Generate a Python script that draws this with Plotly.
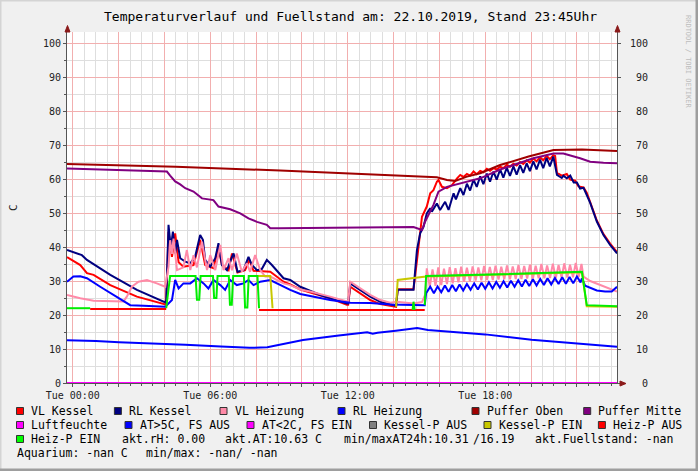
import plotly.graph_objects as go

# ---------------- data (hours of 22.10.2019, values in C) ----------------
vlk_t = [-0.25, 0.03, 0.33, 0.62, 0.91, 1.64, 2.80, 4.04,
         4.08, 4.18, 4.33, 4.47, 4.62, 4.83, 5.27, 5.56, 5.78, 6.14, 6.36, 6.51, 6.80, 6.95, 7.19, 7.52,
         7.71, 7.89, 8.32, 8.62, 9.20, 9.49, 9.93, 10.36, 11.23, 11.96,
         12.02, 12.11, 12.54, 12.98, 13.42, 13.85, 14.11, 14.18, 14.87, 15.02, 15.16, 15.24, 15.45, 15.60,
         15.74, 15.89, 15.96, 16.11, 16.33, 16.55, 16.77,
         16.91, 17.05, 17.20, 17.34, 17.49, 17.63, 17.78, 17.92, 18.07, 18.21, 18.36, 18.50, 18.65, 18.79,
         18.94, 19.08, 19.23, 19.37, 19.52, 19.66, 19.81, 19.95, 20.10, 20.24, 20.39, 20.53, 20.68, 20.82,
         20.97, 21.05, 21.13, 21.34, 21.56, 21.71, 21.92, 22.07, 22.29, 22.43, 22.58, 22.87, 23.16, 23.45, 23.75]
vlk_v = [37.0, 36.0, 34.7, 32.3, 31.8, 28.8, 25.4, 23.1,
         23.4, 44.5, 37.1, 44.0, 35.5, 34.2, 34.7, 42.1, 34.7, 33.8, 40.1, 34.7, 33.2, 38.1, 32.5, 33.2,
         36.2, 33.0, 32.7, 32.7, 29.8, 29.0, 27.5, 26.6, 24.9, 23.0,
         23.0, 28.3, 26.4, 24.4, 23.2, 22.6, 22.4, 27.6, 27.6, 36.0, 44.5, 48.9, 51.9, 55.8,
         56.7, 59.2, 59.7, 57.7, 57.3, 58.2, 60.2,
         61.2, 60.6, 61.5, 61.0, 62.2, 61.4, 62.4, 62.0, 63.0, 62.4, 63.2, 62.8, 63.6, 63.2,
         64.2, 63.6, 64.5, 64.0, 65.0, 64.4, 65.5, 64.8, 66.0, 65.2, 66.4, 65.5, 66.8, 65.8,
         67.0, 66.8, 61.8, 61.0, 61.5, 59.8, 59.5, 57.8, 57.5, 56.0, 53.0, 47.8, 43.8, 41.0, 38.5]

rlk_t = [-0.25, 0.20, 0.40, 0.62, 1.64, 2.80, 4.04,
         4.08, 4.18, 4.28, 4.37, 4.47, 4.55, 4.69, 4.91, 5.13, 5.34, 5.56, 5.68, 5.78, 6.00, 6.22, 6.36,
         6.51, 6.73, 6.95, 7.02, 7.19, 7.45, 7.67, 7.82, 8.04, 8.25, 8.47, 8.69, 9.20, 9.49, 9.93, 10.80, 11.96,
         12.02, 12.11, 12.54, 12.98, 13.42, 13.85, 14.11, 14.18, 14.87, 15.02, 15.16, 15.31, 15.45, 15.60,
         15.67, 15.89, 16.03, 16.25, 16.40, 16.62, 16.72,
         16.91, 17.05, 17.20, 17.34, 17.49, 17.63, 17.78, 17.92, 18.07, 18.21, 18.36, 18.50, 18.65, 18.79,
         18.94, 19.08, 19.23, 19.37, 19.52, 19.66, 19.81, 19.95, 20.10, 20.24, 20.39, 20.53, 20.68, 20.82,
         20.97, 21.13, 21.34, 21.41, 21.56, 21.71, 21.86, 22.00, 22.14, 22.29, 22.43, 22.58, 22.87, 23.16,
         23.45, 23.75]
rlk_v = [39.1, 37.9, 37.6, 36.2, 31.8, 27.4, 23.7,
         24.4, 46.5, 39.6, 44.5, 38.1, 42.1, 36.7, 35.7, 35.2, 37.1, 43.5, 42.1, 36.2, 34.2, 36.7, 41.1,
         34.7, 33.2, 37.1, 38.1, 32.7, 33.2, 37.1, 34.7, 33.2, 33.5, 36.2, 34.7, 30.8, 30.3, 28.3, 25.9, 23.4,
         23.4, 29.3, 27.4, 25.4, 23.9, 23.2, 22.7, 27.4, 27.4, 39.1, 44.0, 46.0, 49.9, 51.4,
         50.4, 52.8, 50.9, 53.3, 50.9, 55.8, 54.0,
         57.3, 55.3, 58.6, 56.6, 59.8, 57.7, 60.8, 58.5, 61.6, 59.2, 62.2, 59.8, 62.8, 60.4,
         63.3, 60.9, 63.7, 61.3, 64.1, 61.8, 64.6, 62.3, 65.2, 62.8, 65.7, 63.2, 66.2, 63.7,
         66.6, 61.2, 60.3, 61.0, 60.2, 61.0, 59.0, 59.0, 57.2, 57.4, 55.3, 53.0, 47.5, 43.5,
         40.6, 38.1]

vlh_t = [-0.25, 0.33, 0.91, 1.64, 2.22, 2.36, 2.58, 2.87, 3.24, 3.67, 4.04,
         4.18, 4.25, 4.33, 4.40, 4.55, 4.83, 4.98, 5.13, 5.27, 5.42, 5.64, 5.86, 6.00, 6.22, 6.44, 6.58,
         6.80, 6.95, 7.16, 7.38, 7.60, 7.74, 7.96, 8.18, 8.40, 8.62, 9.20, 9.49, 9.93, 10.36, 11.23, 11.96,
         12.02, 12.11, 12.54, 12.98, 13.42, 13.85, 14.14, 14.87, 15.24, 15.38,
         15.45, 15.58, 15.70, 15.83, 15.95, 16.08, 16.20, 16.33, 16.45, 16.58, 16.70, 16.83, 16.95, 17.08,
         17.20, 17.33, 17.45, 17.58, 17.70, 17.83, 17.95, 18.08, 18.20, 18.33, 18.45, 18.58, 18.70, 18.83,
         18.95, 19.08, 19.20, 19.33, 19.45, 19.58, 19.70, 19.83, 19.95, 20.08, 20.20, 20.33, 20.45, 20.58,
         20.70, 20.83, 20.95, 21.08, 21.20, 21.33, 21.45, 21.58, 21.70, 21.83, 21.95, 22.08, 22.20,
         22.29, 22.58, 22.87, 23.16, 23.45, 23.75]
vlh_v = [25.9, 24.9, 24.2, 24.0, 24.0, 25.4, 28.3, 29.8, 30.3, 29.3, 28.3,
         34.2, 42.0, 38.0, 42.5, 33.2, 34.0, 39.1, 33.2, 37.6, 34.0, 41.6, 33.2, 37.6, 33.2, 40.6, 33.2,
         36.7, 33.2, 38.1, 32.7, 35.2, 32.7, 37.6, 33.2, 31.3, 31.3, 29.3, 28.8, 27.5, 26.9, 25.4, 23.9,
         23.9, 29.8, 27.8, 25.9, 24.4, 23.6, 23.9, 23.4, 23.8, 26.0,
         33.7, 28.3, 33.4, 28.6, 34.0, 28.8, 33.6, 29.1, 34.1, 29.3, 33.8, 29.6, 34.2, 29.8,
         33.9, 29.9, 34.3, 30.1, 34.0, 30.2, 34.4, 30.3, 34.1, 30.3, 34.5, 30.4, 34.2, 30.5,
         34.6, 30.5, 34.3, 30.6, 34.7, 30.6, 34.4, 30.7, 34.8, 30.7, 34.5, 30.8, 35.0, 30.8,
         34.6, 30.9, 35.1, 30.9, 34.7, 31.0, 35.2, 31.0, 34.8, 31.1, 35.3, 31.2, 35.0,
         31.3, 30.0, 29.2, 28.3, 27.6, 26.9]

rlh_t = [-0.25, 0.03, 0.33, 0.62, 1.20, 1.78, 2.22, 2.51, 3.09, 4.04,
         4.11, 4.33, 4.47, 4.62, 4.83, 5.13, 5.42, 5.71, 5.92, 6.14, 6.44, 6.65, 6.87, 7.16, 7.45, 7.67,
         7.89, 8.18, 8.62, 9.20, 9.49, 9.93, 10.36, 11.23, 12.11, 12.98, 13.85, 14.87, 15.36, 15.42,
         15.60, 15.76, 15.92, 16.08, 16.24, 16.40, 16.56, 16.72, 16.88, 17.04, 17.20, 17.36, 17.52, 17.68,
         17.84, 18.00, 18.16, 18.32, 18.48, 18.64, 18.80, 18.96, 19.12, 19.28, 19.44, 19.60, 19.76, 19.92,
         20.08, 20.24, 20.40, 20.56, 20.72, 20.88, 21.04, 21.20, 21.36, 21.52, 21.68, 21.84, 22.00, 22.16,
         22.22, 22.36, 22.87, 23.23, 23.52, 23.75]
rlh_v = [29.8, 31.3, 31.4, 30.8, 28.3, 25.9, 23.9, 22.9, 22.7, 22.4,
         22.9, 24.4, 30.3, 27.8, 29.3, 29.3, 30.8, 29.3, 27.8, 30.3, 28.8, 27.4, 30.3, 28.8, 29.3, 30.3,
         28.8, 29.8, 30.3, 28.3, 27.4, 26.2, 25.6, 24.4, 23.6, 23.5, 23.1, 22.9, 22.9, 26.4,
         28.3, 26.4, 28.4, 26.7, 28.7, 26.8, 28.8, 27.0, 29.0, 27.2, 29.1, 27.4, 29.3, 27.5,
         29.5, 27.7, 29.6, 27.8, 29.7, 28.0, 29.9, 28.1, 30.1, 28.3, 30.2, 28.4, 30.4, 28.5,
         30.5, 28.7, 30.6, 28.8, 30.8, 29.0, 30.9, 29.1, 31.1, 29.2, 31.2, 29.3, 31.3, 29.6,
         30.8, 28.6, 27.2, 26.9, 26.9, 28.3]

po_t = [-0.25, 4.50, 9.05, 13.85, 15.89, 16.33, 16.69, 17.20, 17.78, 18.65, 19.89, 20.98, 22.22, 23.75]
po_v = [64.4, 63.6, 62.5, 61.2, 60.5, 59.7, 59.4, 60.7, 61.7, 64.1, 66.6, 68.5, 68.7, 68.2]

pm_t = [-0.25, 3.82, 4.11, 4.25, 4.47, 4.69, 4.91, 5.27, 5.64, 6.14, 6.36, 6.87, 7.31, 7.67, 8.04,
        8.47, 8.62, 9.05, 13.85, 14.87, 15.24, 15.38, 15.74, 15.96, 16.33, 17.78, 18.65, 20.10, 20.98,
        21.41, 22.14, 22.58, 23.16, 23.75]
pm_v = [63.1, 62.4, 62.2, 61.0, 59.3, 58.4, 57.3, 56.3, 54.3, 53.8, 51.9, 51.1, 49.9, 48.4, 47.4,
        46.5, 45.5, 45.5, 46.0, 45.9, 45.0, 47.5, 52.4, 56.3, 57.7, 60.2, 62.8, 66.1, 67.5,
        67.5, 66.1, 65.1, 64.8, 64.6]

lf_t = [-0.25, 23.75]
lf_v = [0.0, 0.0]

at_t = [-0.25, 1.01, 2.02, 3.35, 4.91, 6.47, 7.71, 8.49, 10.05, 11.61, 12.85, 13.09, 13.30, 14.10,
        15.03, 15.50, 16.60, 18.00, 20.02, 21.90, 23.75]
at_v = [12.55, 12.35, 11.96, 11.67, 11.27, 10.70, 10.35, 10.49, 12.65, 14.00, 14.90, 14.50, 14.80, 15.40,
        16.15, 15.60, 15.10, 14.30, 12.70, 11.70, 10.63]

kpe_t = [8.04, 8.62, 8.72, None, 14.11, 14.18, 15.42, 22.22, 22.43, 23.75]
kpe_v = [31.5, 31.5, 22.0, None, 22.4, 30.3, 31.3, 32.6, 22.6, 22.4]

hpa_t = [0.76, 4.08, None, 8.13, 15.36]
hpa_v = [21.8, 21.8, None, 21.5, 21.5]

hpe_t = [-0.25, 0.76, None,
         4.08, 4.25, 5.36, 5.42, 5.52, 5.58, 6.12, 6.17, 6.27, 6.32, 6.81, 6.86, 6.94, 7.00,
         7.47, 7.52, 7.62, 7.68, 8.06, 8.13, None,
         14.83, 14.87, 14.92, None,
         15.36, 15.42, 18.65, 22.22, 22.43, 23.75]
hpe_v = [22.0, 22.0, None,
         22.0, 31.5, 31.5, 24.5, 24.5, 31.5, 31.5, 25.0, 25.0, 31.5, 31.5, 23.0, 23.0, 31.5,
         31.5, 22.2, 22.2, 31.5, 31.5, 22.0, None,
         21.5, 23.9, 21.5, None,
         22.9, 31.5, 32.0, 32.7, 22.9, 22.6]

tick_hours = [0, 6, 12, 18]
tick_labels = ["Tue 00:00", "Tue 06:00", "Tue 12:00", "Tue 18:00"]
y_ticks = [0, 10, 20, 30, 40, 50, 60, 70, 80, 90, 100]

title_text = "Temperaturverlauf und Fuellstand am: 22.10.2019, Stand 23:45Uhr"
legend_rows = [
    [("VL Kessel", "#FF0000"), ("RL Kessel", "#000080"), ("VL Heizung", "#FF8AA8"),
     ("RL Heizung", "#0000FF"), ("Puffer Oben", "#A00000"), ("Puffer Mitte", "#800080")],
    [("Luftfeuchte", "#FF00FF"), ("AT>5C, FS AUS", "#0000FF"), ("AT<2C, FS EIN", "#FF00FF"),
     ("Kessel-P AUS", "#808080"), ("Kessel-P EIN", "#C8C800"), ("Heiz-P AUS", "#FF0000")],
    [("Heiz-P EIN", "#00FF00")],
]
info_row3 = ["akt.rH: 0.00", "akt.AT:10.63 C", "min/maxAT24h:10.31", "/16.19", "akt.Fuellstand: -nan"]
info_row4 = ["Aquarium: -nan C", "min/max: -nan/ -nan"]

# ---------------- layout geometry (pixels) ----------------
W, H = 698, 471
L, R, T, B = 67, 81, 32, 88
PW, PH = W - L - R, H - T - B
YMAX = 351 / 3.4


def px(x):
    return (x - L) / PW


def py(y):
    return (H - B - y) / PH


MONO = "DejaVu Sans Mono"
fig = go.Figure()


def add(t, v, color, width=2, yaxis="y"):
    fig.add_trace(go.Scatter(x=t, y=v, mode="lines", line=dict(color=color, width=width),
                             connectgaps=False, hoverinfo="skip", showlegend=False, yaxis=yaxis))


add(vlk_t, vlk_v, "#FF0000")
add(rlk_t, rlk_v, "#000080")
add(vlh_t, vlh_v, "#FF8AA8")
add(rlh_t, rlh_v, "#0000FF")
add(po_t, po_v, "#A00000")
add(pm_t, pm_v, "#800080")
add(lf_t, lf_v, "#FF00FF", yaxis="y2")
add(at_t, at_v, "#0000FF")
add(kpe_t, kpe_v, "#C8C800")
add(hpa_t, hpa_v, "#FF0000")
add(hpe_t, hpe_v, "#00EE00")

major_grid = "#F2AFAF"
minor_grid = "#DEDEDE"
axis_col = "#555555"
NB = "\u00a0"
right_text = [NB * (3 - len(str(v))) + str(v) for v in y_ticks]

fig.update_layout(
    width=W, height=H, autosize=False,
    margin=dict(l=L, r=R, t=T, b=B, pad=0),
    paper_bgcolor="#F0F0F0", plot_bgcolor="#FFFFFF",
    font=dict(family=MONO, size=10, color="#222222"),
    xaxis=dict(range=[-0.25, 23.75], tickmode="array",
               tickvals=list(range(0, 24, 2)),
               ticktext=[tick_labels[tick_hours.index(h)] if h in tick_hours else "" for h in range(0, 24, 2)],
               showgrid=True, gridcolor=major_grid, gridwidth=1,
               minor=dict(dtick=0.5, showgrid=True, gridcolor=minor_grid, ticks="outside", ticklen=2,
                          tickcolor=axis_col),
               ticks="outside", ticklen=3, tickcolor=axis_col,
               showline=True, linecolor=axis_col, linewidth=1, zeroline=False,
               tickfont=dict(family=MONO, size=10, color="#222222"), fixedrange=True),
    yaxis=dict(range=[0, YMAX], tickmode="array", tickvals=y_ticks, ticktext=[str(v) for v in y_ticks],
               showgrid=True, gridcolor=major_grid, gridwidth=1,
               minor=dict(dtick=5, showgrid=True, gridcolor=minor_grid, ticks="outside", ticklen=2,
                          tickcolor=axis_col),
               ticks="outside", ticklen=3, tickcolor=axis_col,
               showline=True, linecolor=axis_col, linewidth=1, zeroline=False,
               tickfont=dict(family=MONO, size=10, color="#222222"), fixedrange=True),
    yaxis2=dict(range=[0, YMAX], overlaying="y", side="right", tickmode="array", tickvals=y_ticks,
                ticktext=right_text, ticklabelstandoff=7,
                showgrid=False, zeroline=False, showline=True, linecolor=axis_col, linewidth=1,
                ticks="outside", ticklen=3, tickcolor=axis_col,
                tickfont=dict(family=MONO, size=10, color="#222222"), fixedrange=True),
)

ann = []
shapes = []

ann.append(dict(text=title_text, x=px(350), y=py(17), xref="paper", yref="paper", showarrow=False,
                xanchor="center", yanchor="middle", font=dict(family=MONO, size=13, color="#000000")))
ann.append(dict(text="C", x=px(14), y=py(208), xref="paper", yref="paper", showarrow=False,
                textangle=-90, xanchor="center", yanchor="middle", font=dict(family=MONO, size=11, color="#222222")))
ann.append(dict(text="RRDTOOL / TOBI OETIKER", x=px(688), y=py(62), xref="paper", yref="paper",
                showarrow=False, textangle=90, xanchor="center", yanchor="middle",
                font=dict(family=MONO, size=7, color="#BDBDBD")))

row_y = [411, 425, 439, 453]
sq_x = [[16.5, 114.4, 220, 338, 472, 583.7], [16.5, 125, 247, 369.5, 484, 598.4], [16.5]]
for r, items in enumerate(legend_rows):
    for i, (name, col) in enumerate(items):
        x0 = sq_x[r][i]
        shapes.append(dict(type="rect", xref="paper", yref="paper", x0=px(x0), x1=px(x0 + 7),
                           y0=py(row_y[r] + 3.5), y1=py(row_y[r] - 3.5), fillcolor=col,
                           line=dict(color="#333333", width=1)))
        ann.append(dict(text=name, x=px(x0 + 12.5), y=py(row_y[r]), xref="paper", yref="paper",
                        showarrow=False, xanchor="left", yanchor="middle",
                        font=dict(family=MONO, size=11.5, color="#000000")))
for txt, x0 in zip(info_row3, [119.5, 222.8, 341.6, 470.8, 533.1]):
    ann.append(dict(text=txt, x=px(x0), y=py(row_y[2]), xref="paper", yref="paper", showarrow=False,
                    xanchor="left", yanchor="middle", font=dict(family=MONO, size=11.5, color="#000000")))
for txt, x0 in zip(info_row4, [15.3, 143.5]):
    ann.append(dict(text=txt, x=px(x0), y=py(row_y[3]), xref="paper", yref="paper", showarrow=False,
                    xanchor="left", yanchor="middle", font=dict(family=MONO, size=11.5, color="#000000")))

arrow_col = "#8B1A1A"


def tri(points):
    p = " L ".join(f"{px(a)},{py(b)}" for a, b in points)
    return dict(type="path", xref="paper", yref="paper", path="M " + p + " Z",
                fillcolor=arrow_col, line=dict(color=arrow_col, width=1))


shapes.append(dict(type="line", xref="paper", yref="paper", x0=px(67.5), x1=px(67.5), y0=py(32), y1=py(28),
                   line=dict(color=axis_col, width=1)))
shapes.append(dict(type="line", xref="paper", yref="paper", x0=px(617.5), x1=px(617.5), y0=py(32), y1=py(28),
                   line=dict(color=axis_col, width=1)))
shapes.append(dict(type="line", xref="paper", yref="paper", x0=px(617), x1=px(621), y0=py(383.5), y1=py(383.5),
                   line=dict(color=axis_col, width=1)))
shapes.append(tri([(65, 32), (70, 32), (67.5, 25.5)]))
shapes.append(tri([(615, 32), (620, 32), (617.5, 25.5)]))
shapes.append(tri([(620, 381), (620, 386), (626, 383.5)]))

# frame of the image
shapes.append(dict(type="line", xref="paper", yref="paper", x0=px(0), x1=px(698), y0=py(0.5), y1=py(0.5),
                   line=dict(color="#D4D4D4", width=2)))
shapes.append(dict(type="line", xref="paper", yref="paper", x0=px(0.5), x1=px(0.5), y0=py(0), y1=py(471),
                   line=dict(color="#D4D4D4", width=2)))
shapes.append(dict(type="line", xref="paper", yref="paper", x0=px(697), x1=px(697), y0=py(0), y1=py(471),
                   line=dict(color="#9E9E9E", width=3)))
shapes.append(dict(type="line", xref="paper", yref="paper", x0=px(0), x1=px(698), y0=py(470), y1=py(470),
                   line=dict(color="#9E9E9E", width=3)))

fig.update_layout(annotations=ann, shapes=shapes)

fig.write_html("out.html", config={"displayModeBar": False, "staticPlot": True},
               post_script="document.body.style.margin='0';document.body.style.overflow='hidden';")
